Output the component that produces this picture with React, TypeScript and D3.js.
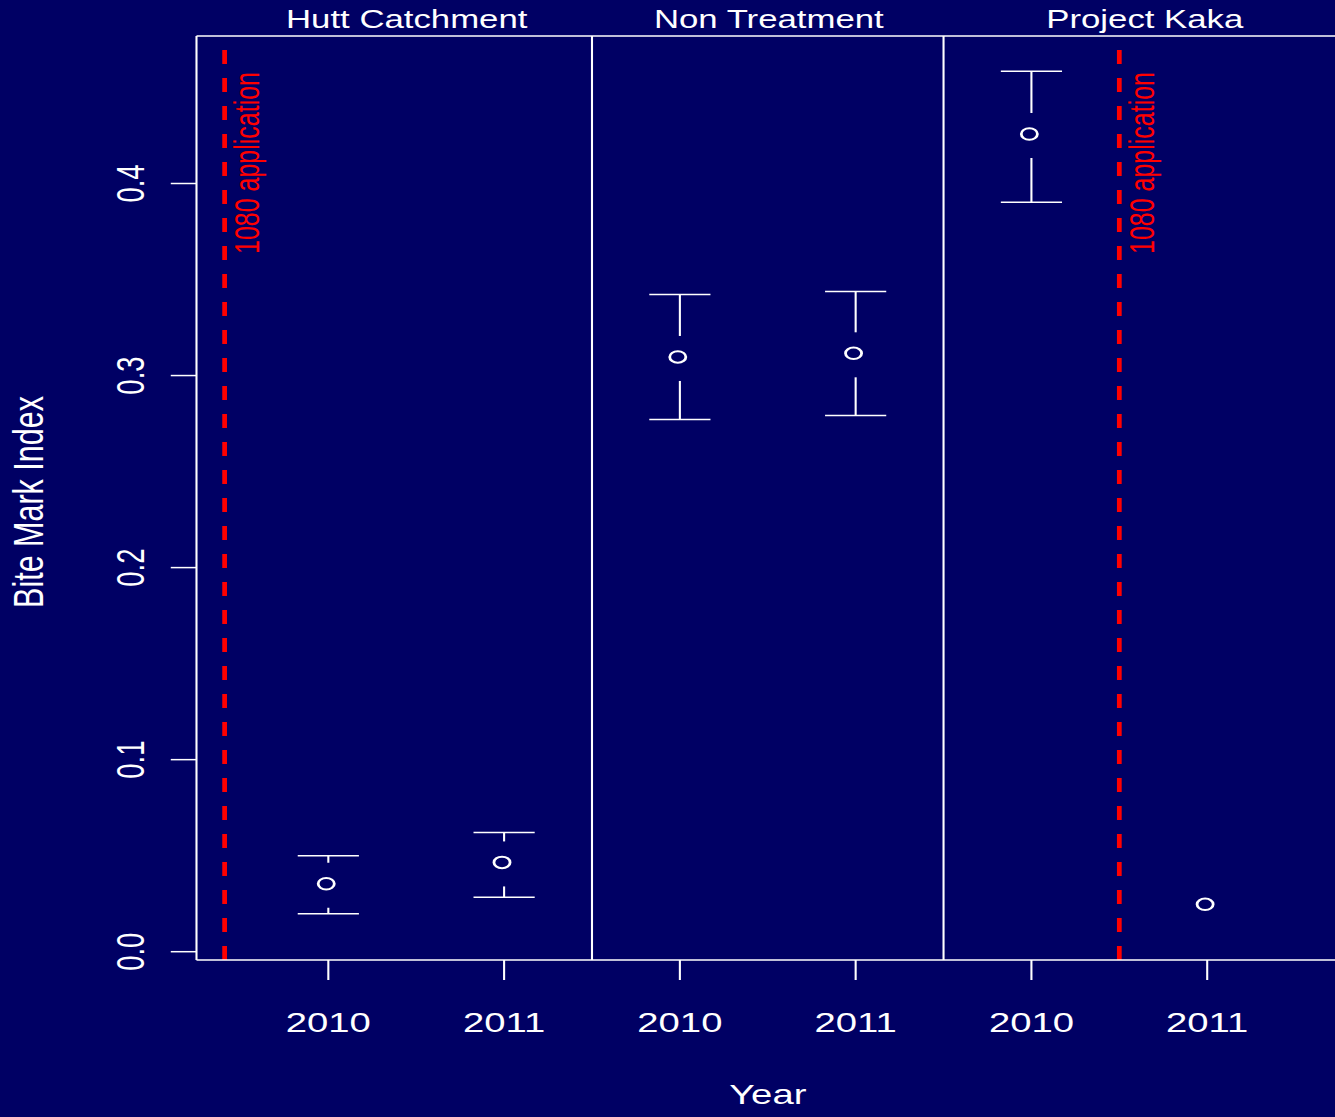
import * as React from "react";
import * as d3 from "d3";

// panels and years, one point per (site, year)
const sites = ["Hutt Catchment", "Non Treatment", "Project Kaka"];
const years = ["2010", "2011", "2010", "2011", "2010", "2011"];
const xPos = [1, 2, 3, 4, 5, 6];
const means = [0.0346, 0.0457, 0.3089, 0.3108, 0.425, 0.0239];
const upper = [0.05, 0.0621, 0.3422, 0.3438, 0.4585, 0.031];
const lower = [0.0198, 0.0283, 0.2771, 0.2792, 0.3903, 0.017];
const yTicks = [0, 0.1, 0.2, 0.3, 0.4];
const dividers = [2.5, 4.5];
const titleAt = [1.446, 3.506, 5.645];
const applications = [0.41, 5.5];
const applicationLabel = "1080 application";

const W = 960; // drawn in R device units, stretched out to 1335 wide
const H = 1117;
const BG = "#000064";
const FONT = "'Liberation Sans', Arial, Helvetica, sans-serif";

const BiteMarkChart: React.FunctionComponent = () => {
  const chartContainer = React.useRef<SVGSVGElement>(null);

  React.useEffect(() => {
    const svg = d3.select(chartContainer.current);
    svg.selectAll("*").remove();

    const x = d3.scaleLinear().domain([0.25, 6.75]).range([141.3, 962.9]);
    const y = d3.scaleLinear().domain([0, 0.4]).range([951.7, 183.5]);
    const top = 36;
    const bottom = 960;
    const gap = 22.5;
    const capHalf = 22;

    svg.append("rect").attr("width", W).attr("height", H).attr("fill", BG);

    const g = svg.append("g");

    // red 1080 application lines
    const app = g.append("g");
    app
      .selectAll("line")
      .data(applications)
      .enter()
      .append("line")
      .attr("x1", d => x(d))
      .attr("x2", d => x(d))
      .attr("y1", 50)
      .attr("y2", bottom)
      .attr("stroke", "#ff0000")
      .attr("stroke-width", 3.4)
      .attr("stroke-dasharray", "14 14");
    app
      .selectAll("text")
      .data(applications)
      .enter()
      .append("text")
      .attr("transform", d => `translate(${x(d) + 25},254) rotate(-90)`)
      .attr("text-anchor", "start")
      .attr("fill", "#ff0000")
      .attr("font-family", FONT)
      .attr("font-size", 25)
      .text(applicationLabel);

    // frame: left, top, bottom and panel dividers
    const white = "#ffffff";
    g.append("line")
      .attr("x1", x(0.25)).attr("x2", x(0.25))
      .attr("y1", top).attr("y2", bottom)
      .attr("stroke", white).attr("stroke-width", 1.5);
    g.append("line")
      .attr("x1", x(0.25)).attr("x2", W + 5)
      .attr("y1", top).attr("y2", top)
      .attr("stroke", white).attr("stroke-width", 1.5);
    g.append("line")
      .attr("x1", x(0.25)).attr("x2", W + 5)
      .attr("y1", bottom).attr("y2", bottom)
      .attr("stroke", white).attr("stroke-width", 1.5);
    g.selectAll(".divider")
      .data(dividers)
      .enter()
      .append("line")
      .attr("class", "divider")
      .attr("x1", d => x(d)).attr("x2", d => x(d))
      .attr("y1", top).attr("y2", bottom)
      .attr("stroke", white).attr("stroke-width", 1.5);

    // y axis ticks + labels
    const yAxis = g.append("g");
    yTicks.forEach(t => {
      yAxis.append("line")
        .attr("x1", x(0.25) - 18.5).attr("x2", x(0.25))
        .attr("y1", y(t)).attr("y2", y(t))
        .attr("stroke", white).attr("stroke-width", 1.5);
      yAxis.append("text")
        .attr("transform", `translate(103.2,${y(t)}) rotate(-90)`)
        .attr("text-anchor", "middle")
        .attr("fill", white)
        .attr("font-family", FONT)
        .attr("font-size", 27.5)
        .text(d3.format(".1f")(t));
    });

    // x axis ticks + labels
    const xAxis = g.append("g");
    xPos.forEach((p, i) => {
      xAxis.append("line")
        .attr("x1", x(p)).attr("x2", x(p))
        .attr("y1", bottom).attr("y2", bottom + 20)
        .attr("stroke", white).attr("stroke-width", 1.5);
      xAxis.append("text")
        .attr("x", x(p)).attr("y", 1031.7)
        .attr("text-anchor", "middle")
        .attr("fill", white)
        .attr("font-family", FONT)
        .attr("font-size", 27.5)
        .text(years[i]);
    });

    // panel titles
    g.selectAll(".title")
      .data(sites)
      .enter()
      .append("text")
      .attr("class", "title")
      .attr("x", (d, i) => x(titleAt[i]))
      .attr("y", 28.3)
      .attr("text-anchor", "middle")
      .attr("fill", white)
      .attr("font-family", FONT)
      .attr("font-size", 25)
      .text(d => d);

    // axis titles
    g.append("text")
      .attr("x", x(3.5)).attr("y", 1104)
      .attr("text-anchor", "middle")
      .attr("fill", white)
      .attr("font-family", FONT)
      .attr("font-size", 27.5)
      .text("Year");
    g.append("text")
      .attr("transform", `translate(31,502) rotate(-90)`)
      .attr("text-anchor", "middle")
      .attr("fill", white)
      .attr("font-family", FONT)
      .attr("font-size", 30.5)
      .text("Bite Mark Index");

    // confidence intervals, plotCI style with a gap round the point
    const ci = g.append("g");
    xPos.forEach((p, i) => {
      const cx = x(p);
      const cy = y(means[i]);
      const yu = y(upper[i]);
      const yl = y(lower[i]);
      if (cy - yu > gap) {
        ci.append("line")
          .attr("x1", cx).attr("x2", cx).attr("y1", yu).attr("y2", cy - gap)
          .attr("stroke", white).attr("stroke-width", 1.5);
        ci.append("line")
          .attr("x1", cx - capHalf).attr("x2", cx + capHalf).attr("y1", yu).attr("y2", yu)
          .attr("stroke", white).attr("stroke-width", 1.5);
      }
      if (yl - cy > gap) {
        ci.append("line")
          .attr("x1", cx).attr("x2", cx).attr("y1", cy + gap).attr("y2", yl)
          .attr("stroke", white).attr("stroke-width", 1.5);
        ci.append("line")
          .attr("x1", cx - capHalf).attr("x2", cx + capHalf).attr("y1", yl).attr("y2", yl)
          .attr("stroke", white).attr("stroke-width", 1.5);
      }
      ci.append("circle")
        .attr("cx", cx - 1.5)
        .attr("cy", cy - 1.5)
        .attr("r", 5.8)
        .attr("fill", "none")
        .attr("stroke", white)
        .attr("stroke-width", 2);
    });
  }, []);

  return (
    <svg
      ref={chartContainer}
      width={1335}
      height={1117}
      viewBox={`0 0 ${W} ${H}`}
      preserveAspectRatio="none"
      style={{ position: "absolute", left: 0, top: 0, display: "block" }}
    />
  );
};

export default function App() {
  React.useEffect(() => {
    document.body.style.margin = "0";
    document.body.style.background = BG;
  }, []);
  return <BiteMarkChart />;
}
